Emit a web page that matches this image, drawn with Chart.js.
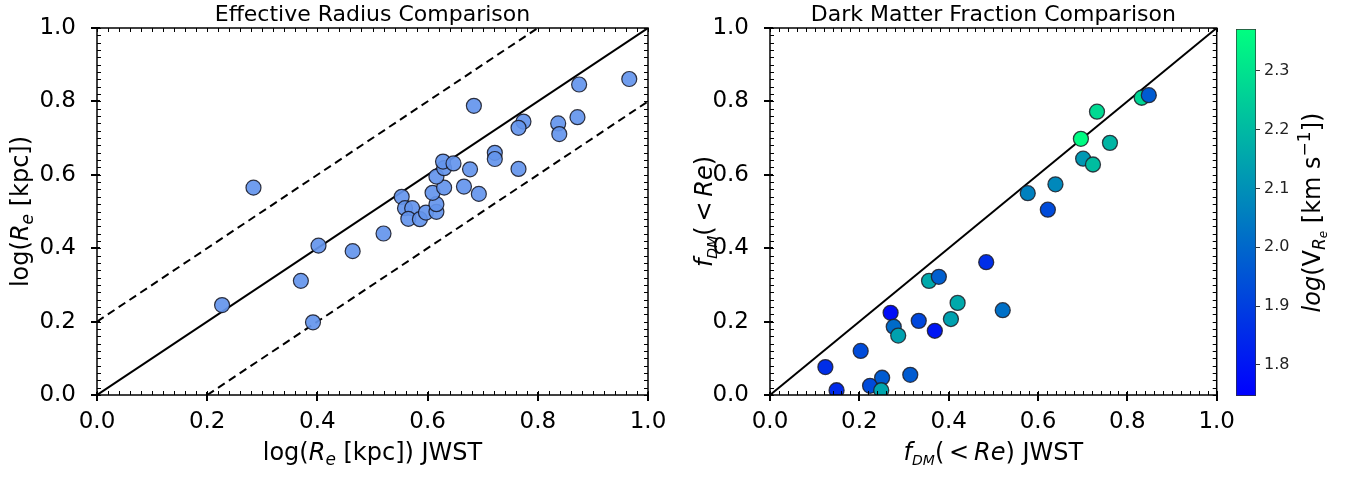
<!DOCTYPE html>
<html>
<head>
<meta charset="utf-8">
<title>Effective Radius / Dark Matter Fraction Comparison</title>
<script src="https://cdn.jsdelivr.net/npm/chart.js@4.4.1/dist/chart.umd.min.js"></script>
<style>
  html, body { margin: 0; padding: 0; background: #fff; }
  body { width: 1357px; height: 477px; position: relative; overflow: hidden; }
  .panel { position: absolute; top: 0; height: 477px; }
</style>
</head>
<body>
<div class="panel" style="left:0; width:680px;"><canvas id="chart-re"></canvas></div>
<div class="panel" style="left:680px; width:560px;"><canvas id="chart-fdm"></canvas></div>
<div class="panel" style="left:1230px; width:127px;"><canvas id="chart-cbar"></canvas></div>

<script>
// ── Data ─────────────────────────────────────────────────────────────────────

// Left panel: log(Re) from JWST vs. log(Re) model
const RE_JWST = [
  0.227, 0.284, 0.370, 0.392, 0.402, 0.464, 0.520, 0.553, 0.559, 0.572,
  0.565, 0.586, 0.597, 0.616, 0.616, 0.609, 0.630, 0.616, 0.630, 0.628,
  0.647, 0.677, 0.666, 0.693, 0.684, 0.722, 0.722, 0.765, 0.774, 0.765,
  0.837, 0.839, 0.872, 0.875, 0.966,
];
const RE_MODEL = [
  0.245, 0.565, 0.311, 0.198, 0.407, 0.392, 0.440, 0.540, 0.509, 0.509,
  0.480, 0.479, 0.497, 0.499, 0.520, 0.551, 0.565, 0.595, 0.618, 0.636,
  0.631, 0.615, 0.568, 0.548, 0.788, 0.660, 0.643, 0.616, 0.745, 0.728,
  0.740, 0.711, 0.757, 0.846, 0.861,
];

// Right panel: f_DM(<Re) JWST vs. model, coloured by log(V_Re)
const FDM_JWST = [
  0.124, 0.149, 0.203, 0.224, 0.251, 0.249, 0.270, 0.277, 0.287, 0.314,
  0.333, 0.356, 0.378, 0.369, 0.405, 0.420, 0.484, 0.521, 0.577, 0.622,
  0.639, 0.696, 0.701, 0.723, 0.732, 0.761, 0.832, 0.848,
];
const FDM_MODEL = [
  0.076, 0.013, 0.120, 0.025, 0.047, 0.013, 0.224, 0.186, 0.162, 0.055,
  0.202, 0.311, 0.322, 0.175, 0.207, 0.251, 0.362, 0.231, 0.550, 0.505,
  0.574, 0.698, 0.644, 0.628, 0.772, 0.687, 0.810, 0.817,
];
const LOG_V = [
  1.86, 1.85, 1.93, 1.93, 1.97, 2.15, 1.78, 2.01, 2.14, 1.97,
  1.92, 2.16, 1.98, 1.80, 2.14, 2.16, 1.86, 2.02, 2.06, 1.93,
  2.08, 2.36, 2.12, 2.21, 2.28, 2.19, 2.27, 1.97,
];

// Reference lines (end points)
const ONE_TO_ONE = [[0, 0], [1, 1]];
const UPPER_BAND = [[0, 0.2], [0.8, 1]];
const LOWER_BAND = [[0.2, 0], [1, 0.8]];

// Tick values
const AXIS_TICKS = [0, 0.2, 0.4, 0.6, 0.8, 1.0];
const MINOR_STEP = 0.02;
const CB_TICKS = [1.8, 1.9, 2.0, 2.1, 2.2, 2.3];
const CB_MIN = 1.747;
const CB_MAX = 2.371;


// ── Helpers ──────────────────────────────────────────────────────────────────

Chart.defaults.font.family = '"DejaVu Sans", sans-serif';
Chart.defaults.color = '#000';

const toXY = (xs, ys) => xs.map((x, i) => ({ x, y: ys[i] }));
const pairs = arr => arr.map(([x, y]) => ({ x, y }));

// matplotlib "winter" colormap: blue -> spring green
function winter(v) {
  const t = Math.min(1, Math.max(0, (v - CB_MIN) / (CB_MAX - CB_MIN)));
  return `rgb(0, ${Math.round(255 * t)}, ${Math.round(255 * (1 - 0.5 * t))})`;
}

// Draw mixed-style text (italic, sub/superscripts) centred on (x, baseline y)
function drawRich(ctx, parts, x, y, size, angle) {
  const fontOf = p =>
    `${p.it ? 'italic ' : ''}${Math.round(size * (p.s || 1))}px "DejaVu Sans"`;
  ctx.save();
  ctx.translate(x, y);
  ctx.rotate(angle || 0);
  ctx.fillStyle = '#000';
  ctx.textBaseline = 'alphabetic';
  ctx.textAlign = 'left';
  let w = 0;
  for (const p of parts) { ctx.font = fontOf(p); w += ctx.measureText(p.t).width; }
  let cx = -w / 2;
  for (const p of parts) {
    ctx.font = fontOf(p);
    ctx.fillText(p.t, cx, (p.dy || 0) * size);
    cx += ctx.measureText(p.t).width;
  }
  ctx.restore();
}

// Frame on all four sides, inward minor ticks, in-out major ticks
function drawFrame(chart) {
  const ctx = chart.ctx;
  const a = chart.chartArea;
  const xs = chart.scales.x;
  const ys = chart.scales.y;
  const seg = (x1, y1, x2, y2) => {
    ctx.beginPath(); ctx.moveTo(x1, y1); ctx.lineTo(x2, y2); ctx.stroke();
  };
  ctx.save();
  ctx.strokeStyle = '#000';

  ctx.lineWidth = 1;
  for (let i = 0; i <= Math.round(1 / MINOR_STEP); i++) {
    const v = i * MINOR_STEP;
    const px = Math.round(xs.getPixelForValue(v)) + 0.5;
    const py = Math.round(ys.getPixelForValue(v)) + 0.5;
    seg(px, a.bottom, px, a.bottom - 4);
    seg(px, a.top, px, a.top + 4);
    seg(a.left, py, a.left + 4, py);
    seg(a.right, py, a.right - 4, py);
  }

  ctx.lineWidth = 2;
  for (const v of AXIS_TICKS) {
    const px = Math.round(xs.getPixelForValue(v));
    const py = Math.round(ys.getPixelForValue(v));
    seg(px, a.bottom + 6, px, a.bottom - 3);
    seg(a.left - 6, py, a.left + 3, py);
  }

  ctx.lineWidth = 1.5;
  ctx.strokeRect(a.left, a.top, a.right - a.left, a.bottom - a.top);
  ctx.restore();
}

// Frame, title and axis labels with mathtext-like styling
const decorations = {
  id: 'decorations',
  afterDraw(chart, args, opts) {
    const { ctx, chartArea: a } = chart;
    const midX = (a.left + a.right) / 2;
    const midY = (a.top + a.bottom) / 2;
    drawFrame(chart);
    if (opts.title) drawRich(ctx, [{ t: opts.title }], midX, 21, 22);
    if (opts.xLabel) drawRich(ctx, opts.xLabel, midX, 460, 24);
    if (opts.yLabel) drawRich(ctx, opts.yLabel, opts.yLabelX, midY, 24, -Math.PI / 2);
  },
};

function axisScale(width, height, isX) {
  return {
    type: 'linear',
    min: 0,
    max: 1,
    grid: { display: false },
    border: { display: false },
    ticks: {
      font: { size: 23 },
      padding: isX ? 5 : 13,
      callback: v => v.toFixed(1),
    },
    afterBuildTicks: s => { s.ticks = AXIS_TICKS.map(value => ({ value })); },
    afterFit: s => { if (isX) s.height = height; else s.width = width; },
  };
}

const baseOptions = {
  responsive: true,
  maintainAspectRatio: false,
  animation: false,
  events: [],
};


// ── Left panel ──────────────────────────────────────────────────────────────

new Chart(document.getElementById('chart-re'), {
  type: 'scatter',
  data: {
    datasets: [
      {
        data: toXY(RE_JWST, RE_MODEL),
        backgroundColor: 'rgba(100, 149, 237, 0.92)',
        borderColor: 'rgba(20, 20, 30, 0.85)',
        borderWidth: 1.2,
        pointRadius: 7.5,
        order: 0,
      },
      {
        data: pairs(ONE_TO_ONE), showLine: true, pointRadius: 0,
        borderColor: '#000', borderWidth: 2, order: 1,
      },
      {
        data: pairs(UPPER_BAND), showLine: true, pointRadius: 0,
        borderColor: '#000', borderWidth: 2, borderDash: [8, 5], order: 1,
      },
      {
        data: pairs(LOWER_BAND), showLine: true, pointRadius: 0,
        borderColor: '#000', borderWidth: 2, borderDash: [8, 5], order: 1,
      },
    ],
  },
  options: {
    ...baseOptions,
    layout: { padding: { left: 0, right: 32, top: 28, bottom: 0 } },
    scales: {
      x: axisScale(0, 82, true),
      y: axisScale(97, 0, false),
    },
    plugins: {
      legend: { display: false },
      tooltip: { enabled: false },
      decorations: {
        title: 'Effective Radius Comparison',
        xLabel: [
          { t: 'log(' }, { t: 'R', it: true }, { t: 'e', it: true, s: 0.7, dy: 0.2 },
          { t: ' [kpc]) JWST' },
        ],
        yLabel: [
          { t: 'log(' }, { t: 'R', it: true }, { t: 'e', it: true, s: 0.7, dy: 0.2 },
          { t: ' [kpc])' },
        ],
        yLabelX: 28,
      },
    },
  },
  plugins: [decorations],
});


// ── Right panel ─────────────────────────────────────────────────────────────

const fdmLabel = [
  { t: 'f', it: true }, { t: 'DM', it: true, s: 0.6, dy: 0.22 },
  { t: '(\u2009<\u2009' }, { t: 'Re', it: true }, { t: ')' },
];

new Chart(document.getElementById('chart-fdm'), {
  type: 'scatter',
  data: {
    datasets: [
      {
        data: toXY(FDM_JWST, FDM_MODEL),
        backgroundColor: LOG_V.map(winter),
        borderColor: 'rgba(30, 30, 40, 0.85)',
        borderWidth: 1.3,
        pointRadius: 7.5,
        order: 0,
      },
      {
        data: pairs(ONE_TO_ONE), showLine: true, pointRadius: 0,
        borderColor: '#000', borderWidth: 2, order: 1,
      },
    ],
  },
  options: {
    ...baseOptions,
    layout: { padding: { left: 0, right: 11, top: 28, bottom: 0 } },
    scales: {
      x: axisScale(0, 82, true),
      y: axisScale(90, 0, false),
    },
    plugins: {
      legend: { display: false },
      tooltip: { enabled: false },
      decorations: {
        title: 'Dark Matter Fraction Comparison',
        xLabel: [...fdmLabel, { t: ' JWST' }],
        yLabel: fdmLabel,
        yLabelX: 32,
      },
    },
  },
  plugins: [decorations],
});


// ── Colour bar ──────────────────────────────────────────────────────────────

const cbarLabel = {
  id: 'cbarLabel',
  afterDraw(chart) {
    const { ctx, chartArea: a } = chart;
    drawRich(ctx, [
      { t: 'log', it: true }, { t: '(V' },
      { t: 'R', it: true, s: 0.7, dy: 0.2 }, { t: 'e', it: true, s: 0.5, dy: 0.3 },
      { t: ' [km s' }, { t: '\u22121', s: 0.7, dy: -0.4 }, { t: '])' },
    ], 90, (a.top + a.bottom) / 2, 24, -Math.PI / 2);
  },
};

new Chart(document.getElementById('chart-cbar'), {
  type: 'bar',
  data: {
    labels: [''],
    datasets: [{
      data: [[CB_MIN, CB_MAX]],
      backgroundColor: ctx => {
        const a = ctx.chart.chartArea;
        if (!a) return winter(CB_MIN);
        const g = ctx.chart.ctx.createLinearGradient(0, a.bottom, 0, a.top);
        for (let i = 0; i <= 10; i++) {
          g.addColorStop(i / 10, winter(CB_MIN + (CB_MAX - CB_MIN) * i / 10));
        }
        return g;
      },
      borderColor: '#333',
      borderWidth: 1,
      borderSkipped: false,
      barPercentage: 1,
      categoryPercentage: 1,
    }],
  },
  options: {
    ...baseOptions,
    layout: { padding: { left: 6, right: 0, top: 29, bottom: 81 } },
    scales: {
      x: { display: false },
      y: {
        position: 'right',
        min: CB_MIN,
        max: CB_MAX,
        grid: { drawOnChartArea: false, tickLength: 4, color: '#333', tickWidth: 1 },
        border: { display: false },
        ticks: { font: { size: 16 }, padding: 4, color: '#222', callback: v => v.toFixed(1) },
        afterBuildTicks: s => { s.ticks = CB_TICKS.map(value => ({ value })); },
        afterFit: s => { s.width = 101; },
      },
    },
    plugins: { legend: { display: false }, tooltip: { enabled: false } },
  },
  plugins: [cbarLabel],
});
</script>
</body>
</html>
